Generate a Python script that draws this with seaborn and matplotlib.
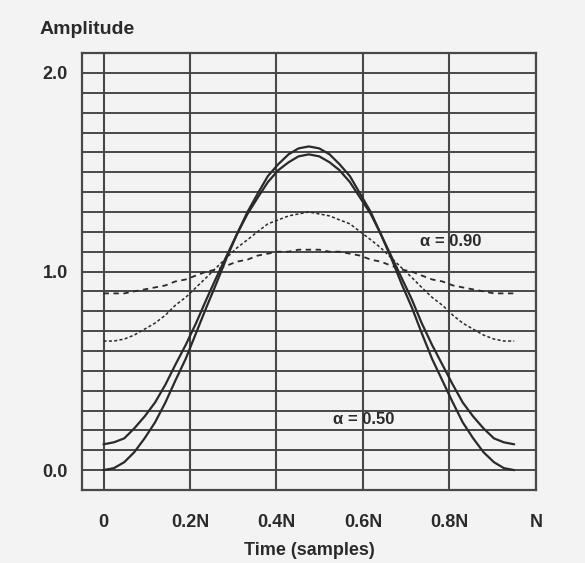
import matplotlib
matplotlib.use("Agg")
import matplotlib.pyplot as plt
import seaborn as sns
import numpy as np

# sample positions (fraction of N)
time = [0, 0.024, 0.048, 0.071, 0.095, 0.119, 0.143, 0.166, 0.19, 0.214,
        0.238, 0.261, 0.285, 0.309, 0.333, 0.356, 0.38, 0.404, 0.428, 0.451,
        0.475, 0.499, 0.523, 0.546, 0.57, 0.594, 0.618, 0.641, 0.665, 0.689,
        0.713, 0.736, 0.76, 0.784, 0.808, 0.831, 0.855, 0.879, 0.903, 0.926, 0.95]

# amplitudes
amp_050 = [0.00, 0.01, 0.04, 0.09, 0.16, 0.24, 0.34, 0.45, 0.56, 0.69,
           0.82, 0.94, 1.07, 1.19, 1.30, 1.39, 1.48, 1.54, 1.59, 1.62,
           1.63, 1.62, 1.59, 1.54, 1.48, 1.39, 1.30, 1.19, 1.07, 0.94,
           0.82, 0.69, 0.56, 0.45, 0.34, 0.24, 0.16, 0.09, 0.04, 0.01, 0.00]
amp_054 = [0.13, 0.14, 0.16, 0.21, 0.27, 0.34, 0.43, 0.53, 0.63, 0.74,
           0.86, 0.97, 1.08, 1.19, 1.29, 1.37, 1.45, 1.51, 1.55, 1.58,
           1.59, 1.58, 1.55, 1.51, 1.45, 1.37, 1.29, 1.19, 1.08, 0.97,
           0.86, 0.74, 0.63, 0.53, 0.43, 0.34, 0.27, 0.21, 0.16, 0.14, 0.13]
amp_075 = [0.65, 0.65, 0.66, 0.68, 0.71, 0.74, 0.78, 0.83, 0.87, 0.92,
           0.97, 1.02, 1.07, 1.12, 1.16, 1.20, 1.24, 1.26, 1.28, 1.29,
           1.30, 1.29, 1.28, 1.26, 1.24, 1.20, 1.16, 1.12, 1.07, 1.02,
           0.97, 0.92, 0.87, 0.83, 0.78, 0.74, 0.71, 0.68, 0.66, 0.65, 0.65]
amp_090 = [0.89, 0.89, 0.89, 0.90, 0.91, 0.92, 0.93, 0.95, 0.96, 0.98,
           1.00, 1.01, 1.03, 1.05, 1.06, 1.08, 1.09, 1.10, 1.10, 1.11,
           1.11, 1.11, 1.10, 1.10, 1.09, 1.08, 1.06, 1.05, 1.03, 1.01,
           1.00, 0.98, 0.96, 0.95, 0.93, 0.92, 0.91, 0.90, 0.89, 0.89, 0.89]

x_ticks = [0, 0.2, 0.4, 0.6, 0.8, 1.0]
x_labels = ["0", "0.2N", "0.4N", "0.6N", "0.8N", "N"]
y_ticks = [0, 1, 2]
y_labels = ["0.0", "1.0", "2.0"]

sns.set_theme(style="white")
plt.rcParams["font.family"] = ["Liberation Sans", "DejaVu Sans"]

bg = "#f3f3f3"
ink = "#2a2a2a"
grid_c = "#484848"

fig = plt.figure(figsize=(5.85, 5.63), dpi=100, facecolor=bg)
ax = fig.add_axes([0.140, 0.1297, 0.776, 0.776])
ax.set_facecolor(bg)

sns.lineplot(x=time, y=amp_050, ax=ax, color=ink, linewidth=1.6)
sns.lineplot(x=time, y=amp_054, ax=ax, color=ink, linewidth=1.6)
sns.lineplot(x=time, y=amp_075, ax=ax, color=ink, linewidth=1.1,
             linestyle=(0, (2, 1.5)))
sns.lineplot(x=time, y=amp_090, ax=ax, color=ink, linewidth=1.3,
             linestyle=(0, (3, 2.5)))

ax.set_xlim(-0.05, 1.0)
ax.set_ylim(-0.1, 2.1)
ax.set_xticks(x_ticks)
ax.set_xticklabels(x_labels, fontsize=13, color=ink, fontweight="bold")
ax.set_yticks(y_ticks)
ax.set_yticklabels(y_labels, fontsize=13, color=ink, fontweight="bold")
ax.set_yticks(np.arange(0, 2.05, 0.1), minor=True)
ax.tick_params(which="both", length=0)
ax.tick_params(axis="x", pad=17)
ax.tick_params(axis="y", pad=10)

ax.grid(True, axis="x", which="major", color=grid_c, linewidth=1.5)
ax.grid(True, axis="y", which="both", color=grid_c, linewidth=1.4)
ax.set_axisbelow(True)
for s in ax.spines.values():
    s.set_color(grid_c)
    s.set_linewidth(1.6)

ax.set_xlabel("Time (samples)", fontsize=13, color=ink, labelpad=8,
              fontweight="bold")
ax.set_ylabel("")
fig.text(40 / 585, 1 - 29 / 563, "Amplitude", fontsize=14, color=ink,
         va="center", ha="left", fontweight="bold")

ax.text(0.732, 1.15, "α = 0.90", fontsize=12, color=ink, va="center",
        fontweight="bold")
ax.text(0.531, 0.257, "α = 0.50", fontsize=12, color=ink, va="center",
        fontweight="bold")

fig.savefig("out.png", dpi=100, facecolor=bg)
